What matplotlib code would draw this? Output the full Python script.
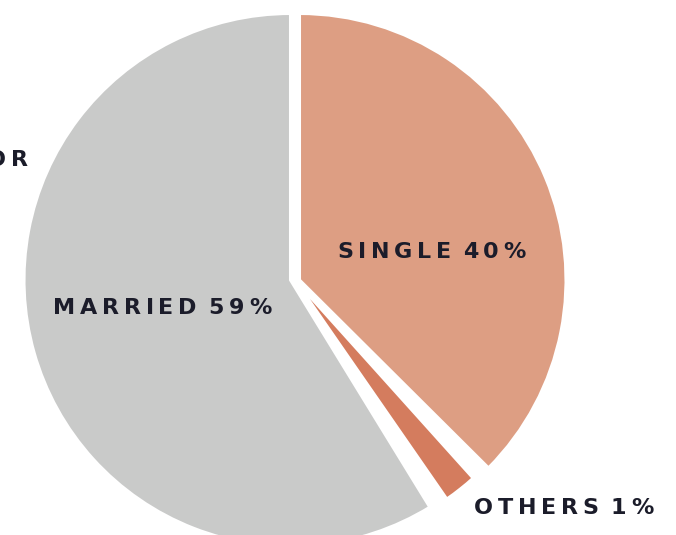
import matplotlib
matplotlib.use('Agg')
import matplotlib.pyplot as plt

# marital status shares
categories = ['SINGLE', 'OTHERS', 'MARRIED']
shares = [37.9, 2.9, 59.2]
printed_pct = [40, 1, 59]
colors = ['#dd9e83', '#d47c5e', '#c9cac9']

W, H = 676, 535
TEXT_COLOR = '#1b1c2a'


def tracked_text(ax, x, y, s, size, spacing, renderer):
    # matplotlib has no letter spacing, so place the glyphs one by one
    for ch in s:
        t = ax.text(x, y, ch, fontsize=size, fontweight='bold', family='DejaVu Sans',
                    color=TEXT_COLOR, ha='left', va='center')
        if ch == ' ':
            w = 2
        else:
            w = t.get_window_extent(renderer=renderer).width
        x += w + spacing


fig = plt.figure(figsize=(W / 100, H / 100), dpi=100)
ax = fig.add_axes([0, 0, 1, 1])

cx, cy = 295, H - 280
wedges, _ = ax.pie(shares, colors=colors, startangle=90, counterclock=False,
                   radius=266.5, center=(cx, cy), frame=True,
                   wedgeprops=dict(edgecolor='white', linewidth=2.2))
ax.set_xlim(0, W)
ax.set_ylim(0, H)
ax.set_aspect('equal')
ax.axis('off')

# open up the cuts around the small slice and split the top seam
trim = 1.6
wedges[0].set_theta1(wedges[0].theta1 + trim)
wedges[1].set_theta1(wedges[1].theta1 + trim)
wedges[1].set_theta2(wedges[1].theta2 - trim)
wedges[2].set_theta2(wedges[2].theta2 - trim)
wedges[0].set_center((cx + 4.5, cy))
wedges[2].set_center((cx - 4.5, cy))

fig.canvas.draw()
renderer = fig.canvas.get_renderer()

labels = [f'{c} {p}%' for c, p in zip(categories, printed_pct)]
size, track = 16, 4.8
tracked_text(ax, 337, H - 252, labels[0], size, track, renderer)
tracked_text(ax, 474, H - 508, labels[1], size, track, renderer)
tracked_text(ax, 53, H - 308, labels[2], size, track, renderer)
tracked_text(ax, -13, H - 160, 'OR', size, track, renderer)

fig.savefig('out.png', dpi=100)
